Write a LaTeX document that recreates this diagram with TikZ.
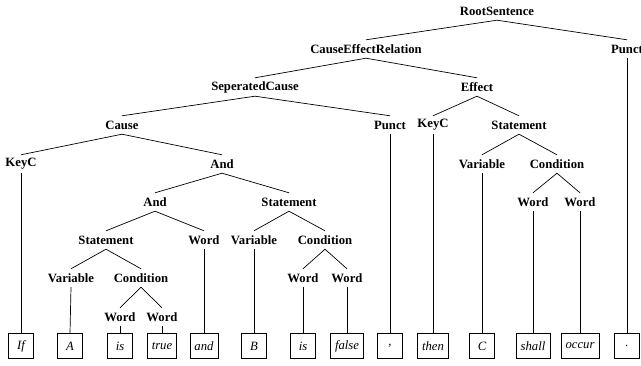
\documentclass[tikz,border=0pt]{standalone}
\usepackage{fontspec}
\setmainfont{Liberation Serif}
\begin{document}
\begin{tikzpicture}[x={(1pt,0)},y={(0,-1pt)},
  cat/.style={font=\fontsize{12.7}{15}\selectfont\bfseries, inner sep=0pt, minimum height=18pt},
  leaf/.style={draw, line width=0.7pt, font=\fontsize{12.7}{15}\selectfont\itshape, inner xsep=4.5pt, inner ysep=0pt, minimum width=25pt, minimum height=25pt},
  edge/.style={line width=0.7pt}]
\useasboundingbox (0,0) rectangle (641,366);
\node[cat] (root) at (497,11) {RootSentence};
\node[cat] (cer) at (366,49) {CauseEffectRelation};
\node[cat] (p2) at (627,49) {Punct};
\node[cat] (sc) at (255,87) {SeperatedCause};
\node[cat] (eff) at (477,87) {Effect};
\node[cat] (cause) at (122,125) {Cause};
\node[cat] (p1) at (390,125) {Punct};
\node[cat] (kc2) at (433,125) {KeyC};
\node[cat] (st3) at (519,125) {Statement};
\node[cat] (kc1) at (21,164) {KeyC};
\node[cat] (and1) at (222,164) {And};
\node[cat] (var3) at (482,164) {Variable};
\node[cat] (cond3) at (557,164) {Condition};
\node[cat] (and2) at (155,202) {And};
\node[cat] (st2) at (289,202) {Statement};
\node[cat] (w5) at (533,202) {Word};
\node[cat] (w6) at (580,202) {Word};
\node[cat] (st1) at (106,240) {Statement};
\node[cat] (w3) at (204,240) {Word};
\node[cat] (var2) at (254,240) {Variable};
\node[cat] (cond2) at (325,240) {Condition};
\node[cat] (var1) at (71,278) {Variable};
\node[cat] (cond1) at (141,278) {Condition};
\node[cat] (w4a) at (303,278) {Word};
\node[cat] (w4b) at (347,278) {Word};
\node[cat] (w1) at (120,317) {Word};
\node[cat] (w2) at (162,317) {Word};
% leaves
\node[leaf] (lIf) at (21,346) {If};
\node[leaf] (lA) at (70,346) {A};
\node[leaf] (lis1) at (120,346) {is};
\node[leaf] (ltrue) at (162,346) {true};
\node[leaf] (land) at (204,346) {and};
\node[leaf] (lB) at (254,346) {B};
\node[leaf] (lis2) at (303,346) {is};
\node[leaf] (lfalse) at (347,346) {false};
\node[leaf] (lcomma) at (390,346) {,};
\node[leaf] (lthen) at (433,346) {then};
\node[leaf] (lC) at (482,346) {C};
\node[leaf] (lshall) at (533,346) {shall};
\node[leaf] (loccur) at (580,346) {occur};
\node[leaf] (ldot) at (627,346) {.};
% edges
\foreach \a/\b in {root/cer, root/p2, cer/sc, cer/eff, sc/cause, sc/p1, eff/kc2, eff/st3,
  cause/kc1, cause/and1, and1/and2, and1/st2, and2/st1, and2/w3, st1/var1, st1/cond1,
  cond1/w1, cond1/w2, st2/var2, st2/cond2, cond2/w4a, cond2/w4b, st3/var3, st3/cond3,
  cond3/w5, cond3/w6,
  kc1/lIf, var1/lA, w1/lis1, w2/ltrue, w3/land, var2/lB, w4a/lis2, w4b/lfalse,
  p1/lcomma, kc2/lthen, var3/lC, w5/lshall, w6/loccur, p2/ldot}
  \draw[edge] (\a.south) -- (\b.north);
\end{tikzpicture}
\end{document}
